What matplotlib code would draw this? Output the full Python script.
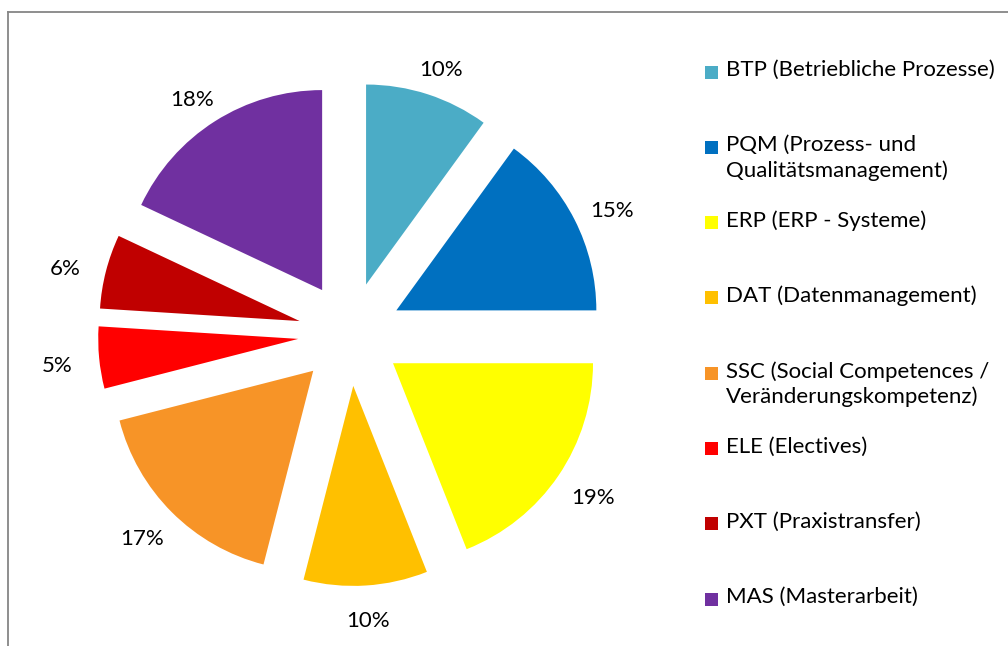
import math
import matplotlib
matplotlib.use("Agg")
import matplotlib.pyplot as plt
from matplotlib.lines import Line2D
from matplotlib.patches import Rectangle

plt.rcParams['font.family'] = ['Lato', 'DejaVu Sans']

categories = ["BTP (Betriebliche Prozesse)",
              "PQM (Prozess- und\nQualitätsmanagement)",
              "ERP (ERP - Systeme)",
              "DAT (Datenmanagement)",
              "SSC (Social Competences /\nVeränderungskompetenz)",
              "ELE (Electives)",
              "PXT (Praxistransfer)",
              "MAS (Masterarbeit)"]
values = [10, 15, 19, 10, 17, 5, 6, 18]
colors = ["#4BACC6", "#0070C0", "#FFFF00", "#FFC000",
          "#F79427", "#FF0000", "#C00000", "#7030A0"]

W, H = 1008, 646
fig = plt.figure(figsize=(W / 100, H / 100), dpi=100)
ax = fig.add_axes([0, 0, 1, 1])

cx, cy, scale = 350, 312, 200.0  # pixel centre (from bottom) and px per unit
wedges, texts, autotexts = ax.pie(
    values, colors=colors, startangle=90, counterclock=False,
    explode=[0.26] * len(values), radius=1.0,
    autopct='%1.0f%%', pctdistance=1.0,
    wedgeprops=dict(linewidth=0),
    textprops=dict(fontsize=16, color='black'))
ax.set_aspect('equal')
ax.set_xlim(-cx / scale, (W - cx) / scale)
ax.set_ylim(-cy / scale, (H - cy) / scale)
ax.axis('off')

# place labels "outside end" like Excel: arc point + gap + half text box
gap, half_w, half_h = 0.11, 0.10, 0.045
for w, t in zip(wedges, autotexts):
    ang = math.radians((w.theta1 + w.theta2) / 2)
    x, y = t.get_position()
    t.set_position((x + (gap + half_w) * math.cos(ang),
                    y + (gap + half_h) * math.sin(ang) - 0.025))

# legend (manual, Excel-like)
y0, step = 72, 75.3
for i, (lab, col) in enumerate(zip(categories, colors)):
    ypx = y0 + step * i
    yf = 1 - ypx / H
    fig.add_artist(Rectangle((705 / W, yf - 6.5 / H), 13 / W, 13 / H,
                             transform=fig.transFigure, facecolor=col,
                             edgecolor='none'))
    fig.text(726 / W, yf + 12 / H, lab, ha='left', va='top', fontsize=16,
             linespacing=1.3, color='black')

# chart border (partially visible)
fig.add_artist(Line2D([8 / W, 8 / W], [0, 1 - 12 / H], transform=fig.transFigure,
                      color='#868686', linewidth=1.3))
fig.add_artist(Line2D([8 / W, 1], [1 - 12 / H, 1 - 12 / H], transform=fig.transFigure,
                      color='#868686', linewidth=1.3))

fig.savefig("out.png", dpi=100)
